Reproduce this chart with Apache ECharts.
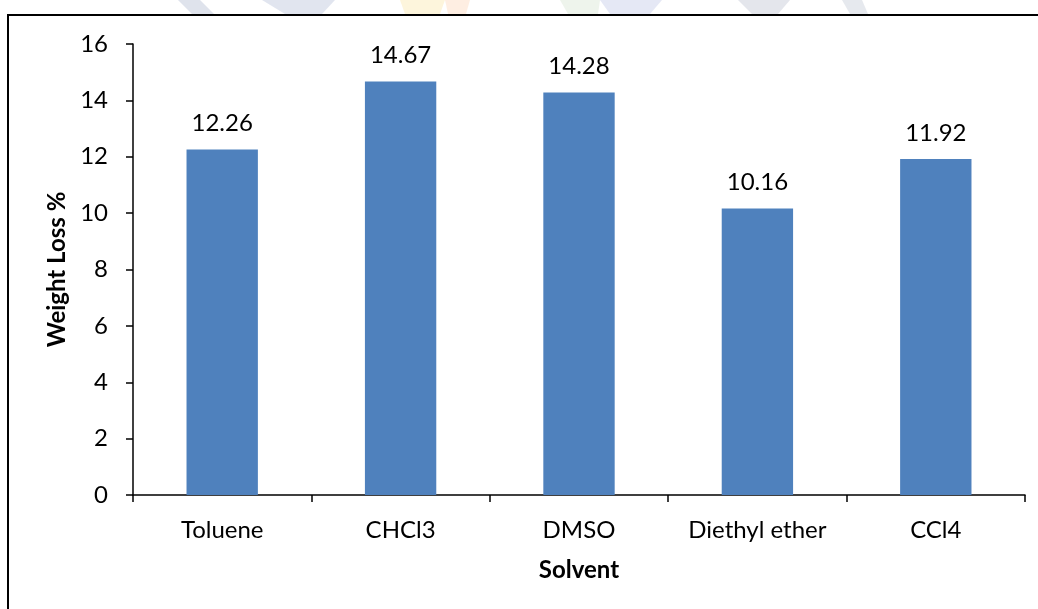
<!DOCTYPE html>
<html>
<head>
<meta charset="utf-8">
<script src="https://cdn.jsdelivr.net/npm/echarts@6/dist/echarts.min.js"></script>
<style>
  html, body { margin: 0; padding: 0; background: #ffffff; }
  #chart { width: 1038px; height: 609px; }
</style>
</head>
<body>
<div id="chart"></div>
<script>
// Weight loss of the sample after treatment in each solvent
const solvents = ['Toluene', 'CHCl3', 'DMSO', 'Diethyl ether', 'CCl4'];
const weightLoss = [12.26, 14.67, 14.28, 10.16, 11.92];
const yTicks = { min: 0, max: 16, interval: 2 };

const FONT = 'Lato, "Open Sans", sans-serif';
const FS = 24;

// faint page emblem showing above the chart frame
const emblem = [
  { pts: [[178, 0], [200, 0], [214, 14], [192, 14]], color: '#c9d0df' },
  { pts: [[262, 0], [335, 0], [322, 14], [285, 14]], color: '#cdd4e4' },
  { pts: [[400, 0], [445, 0], [440, 14], [405, 14]], color: '#fbefc4' },
  { pts: [[445, 0], [470, 0], [466, 14], [448, 14]], color: '#fde3cf' },
  { pts: [[560, 0], [600, 0], [598, 14], [568, 14]], color: '#e3ece0' },
  { pts: [[600, 0], [662, 0], [650, 14], [610, 14]], color: '#d3d9ee' },
  { pts: [[738, 0], [790, 0], [778, 14], [752, 14]], color: '#d2d6df' },
  { pts: [[842, 0], [862, 0], [868, 14], [850, 14]], color: '#d6dae2' }
];

const chart = echarts.init(document.getElementById('chart'), null, { renderer: 'canvas' });

chart.setOption({
  backgroundColor: '#ffffff',
  animation: false,
  textStyle: { fontFamily: FONT },
  graphic: emblem.map(e => ({
    type: 'polygon',
    shape: { points: e.pts },
    style: { fill: e.color, opacity: 0.6 },
    silent: true,
    z: -1
  })).concat([{
    type: 'rect',
    shape: { x: 8, y: 15, width: 1100, height: 700 },
    style: { fill: '#ffffff', stroke: '#000000', lineWidth: 2 },
    silent: true,
    z: 0
  }]),
  grid: { left: 133, right: 13, top: 44, bottom: 114, containLabel: false },
  xAxis: {
    type: 'category',
    data: solvents,
    name: 'Solvent',
    nameLocation: 'middle',
    nameGap: 63,
    nameTextStyle: { fontFamily: FONT, fontSize: FS, fontWeight: 'bold', color: '#000' },
    axisLine: { lineStyle: { color: '#000', width: 1.5 } },
    axisTick: { show: true, alignWithLabel: false, length: 7, lineStyle: { color: '#000', width: 1.5 } },
    axisLabel: { fontFamily: FONT, fontSize: FS, color: '#000', margin: 23, interval: 0 }
  },
  yAxis: {
    type: 'value',
    min: yTicks.min,
    max: yTicks.max,
    interval: yTicks.interval,
    name: 'Weight Loss %',
    nameLocation: 'middle',
    nameGap: 63,
    nameRotate: 90,
    nameTextStyle: { fontFamily: FONT, fontSize: FS, fontWeight: 'bold', color: '#000' },
    axisLine: { show: true, lineStyle: { color: '#000', width: 1.5 } },
    axisTick: { show: true, length: 7, lineStyle: { color: '#000', width: 1.5 } },
    axisLabel: { fontFamily: FONT, fontSize: FS, color: '#000', margin: 25 },
    splitLine: { show: false }
  },
  series: [{
    type: 'bar',
    data: weightLoss,
    barWidth: '40%',
    z: 2,
    itemStyle: { color: '#4F81BD' },
    label: {
      show: true,
      position: 'top',
      distance: 14,
      fontFamily: FONT,
      fontSize: FS,
      color: '#000',
      formatter: p => p.value.toFixed(2)
    }
  }]
});
</script>
</body>
</html>
